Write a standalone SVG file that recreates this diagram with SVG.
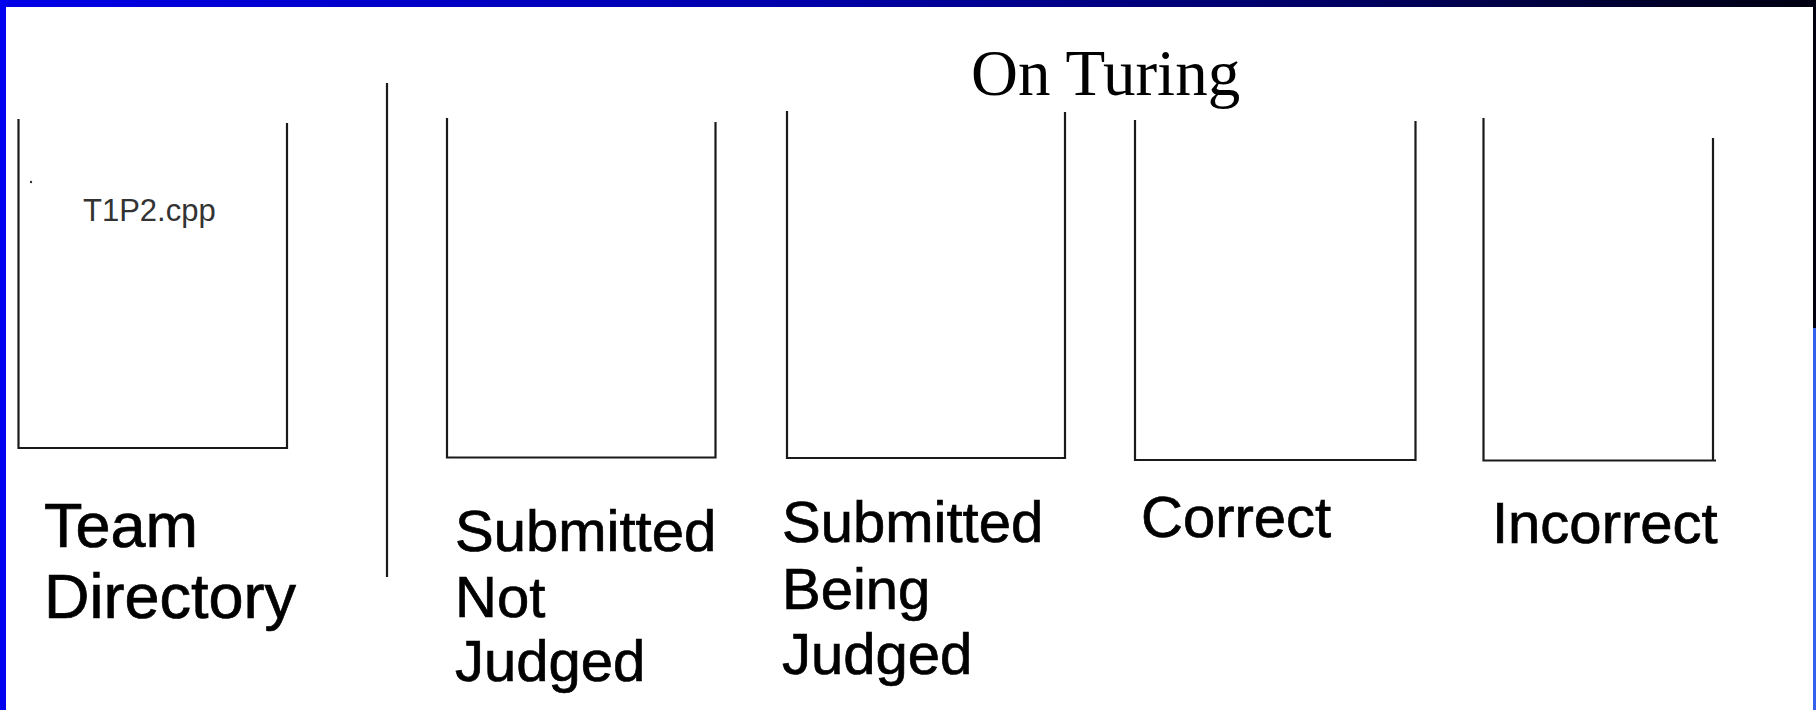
<svg xmlns="http://www.w3.org/2000/svg" width="1816" height="710" viewBox="0 0 1816 710">
<defs>
<linearGradient id="topbar" x1="0" y1="0" x2="1" y2="0">
<stop offset="0" stop-color="#0000e8"/>
<stop offset="0.45" stop-color="#0000a8"/>
<stop offset="0.75" stop-color="#000060"/>
<stop offset="1" stop-color="#000010"/>
</linearGradient>
<style>
.bin{fill:none;stroke:#1a1a1a;stroke-width:2.2}
.lbl{font-family:"Liberation Sans",Arial,sans-serif;font-size:58px;fill:#000;stroke:#000;stroke-width:0.7}
.big{font-size:63px}
.file{font-family:"Liberation Sans",Arial,sans-serif;font-size:31px;fill:#333}
.title{font-family:"Liberation Serif","Times New Roman",serif;font-size:65px;fill:#000}
</style>
</defs>
<rect width="1816" height="710" fill="#fff"/>
<rect x="0" y="0" width="1816" height="7" fill="url(#topbar)"/>
<rect x="0" y="0" width="6" height="710" fill="#0000f0"/>
<rect x="1813" y="0" width="3" height="328" fill="#000010"/>
<rect x="1813" y="328" width="3" height="382" fill="#3560ee"/>
<text class="title" x="971" y="95">On Turing</text>
<g id="connectors">
<line class="bin" x1="387" y1="83" x2="387" y2="577"/>
</g>
<g id="team-directory">
<polyline class="bin" points="18.5,119 18.5,448 287,448 287,123"/>
<circle cx="31" cy="182" r="1.2" fill="#333"/>
<text class="file" x="83" y="221">T1P2.cpp</text>
<text class="lbl big" x="44" y="547">Team</text>
<text class="lbl big" x="44" y="618">Directory</text>
</g>
<g id="submitted-not-judged">
<polyline class="bin" points="447,118 447,457.5 715.5,457.5 715.5,122"/>
<text class="lbl" x="455" y="551">Submitted</text>
<text class="lbl" x="455" y="617">Not</text>
<text class="lbl" x="455" y="681">Judged</text>
</g>
<g id="submitted-being-judged">
<polyline class="bin" points="787,111 787,458 1065,458 1065,112"/>
<text class="lbl" x="782" y="542">Submitted</text>
<text class="lbl" x="782" y="609">Being</text>
<text class="lbl" x="782" y="674">Judged</text>
</g>
<g id="correct">
<polyline class="bin" points="1135,120 1135,460 1415.5,460 1415.5,121"/>
<text class="lbl" x="1141" y="537">Correct</text>
</g>
<g id="incorrect">
<polyline class="bin" points="1483.5,118 1483.5,460.5 1716,460.5"/>
<line class="bin" x1="1713" y1="138" x2="1713" y2="460.5"/>
<text class="lbl" x="1492" y="543">Incorrect</text>
</g>
</svg>
